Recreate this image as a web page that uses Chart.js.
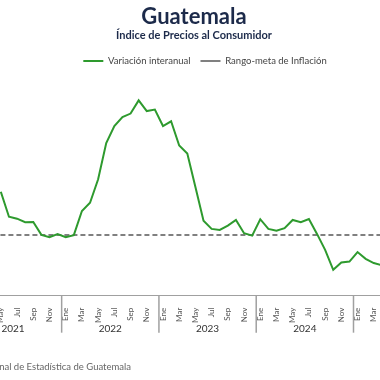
<!DOCTYPE html>
<html>
<head>
<meta charset="utf-8">
<script src="https://cdn.jsdelivr.net/npm/chart.js@4"></script>
<style>
html,body{margin:0;padding:0;background:#fff;overflow:hidden;}
#wrap{position:relative;width:380px;height:380px;}
</style>
</head>
<body>
<div id="wrap"><canvas id="c" width="380" height="380"></canvas></div>
<script>
// Month index: 0 = Ene 2021
const monthLabels = ['Ene','Feb','Mar','Abr','May','Jun','Jul','Ago','Sep','Oct','Nov','Dic'];
const years = ['2021','2022','2023','2024','2025'];
const firstMonthIndex = 4; // May 2021
// Variación interanual (%), May 2021 .. Apr 2025
const inflation = [
  5.73, 4.73, 4.65, 4.51, 4.52, 4.00, 3.91, 4.03,
  3.91, 3.99, 4.96, 5.29, 6.23, 7.69, 8.37, 8.73, 8.87, 9.40, 8.97, 9.03,
  8.37, 8.56, 7.59, 7.27, 5.92, 4.57, 4.24, 4.20, 4.37, 4.60, 4.07, 3.97,
  4.63, 4.24, 4.17, 4.27, 4.60, 4.51, 4.64, 4.04, 3.40, 2.60, 2.89, 2.93,
  3.31, 3.04, 2.87, 2.78
];
const inflationTarget = 4;
const title = 'Guatemala';
const subtitle = 'Índice de Precios al Consumidor';
const seriesNames = ['Variación interanual', 'Rango-meta de Inflación'];
const sourceText = 'Fuente: Instituto Nacional de Estadística de Guatemala';

const seriesPoints = inflation.map((v, i) => ({x: firstMonthIndex + i, y: v}));
const targetPoints = [{x: 0, y: inflationTarget}, {x: 59, y: inflationTarget}];

const FONT = 'Lato, "Noto Sans", sans-serif';

const shiftPlugin = {
  id: 'shiftPlugin',
  afterLayout(chart) {
    chart.boxes.forEach(b => {
      if (b === chart.legend) { b.left += 15; b.right += 15; }
      else if (b.options && (b.options.text === title || b.options.text === subtitle)) {
        b.left += 4; b.right += 4;
      }
    });
  }
};

const yearPlugin = {
  id: 'yearPlugin',
  afterDraw(chart) {
    const ctx = chart.ctx;
    const xs = chart.scales.x;
    const top = chart.chartArea.bottom;
    ctx.save();
    ctx.strokeStyle = '#a0a0a0';
    ctx.lineWidth = 1.5;
    for (let y = 1; y < years.length; y++) {
      const px = xs.getPixelForValue(y * 12 - 0.5);
      ctx.beginPath();
      ctx.moveTo(px, top);
      ctx.lineTo(px, top + 37);
      ctx.stroke();
    }
    ctx.fillStyle = '#333';
    ctx.font = '10px ' + FONT;
    ctx.textAlign = 'center';
    ctx.textBaseline = 'middle';
    years.forEach((yr, i) => {
      ctx.fillText(yr, xs.getPixelForValue(i * 12 + 5.5), top + 33);
    });
    ctx.fillStyle = '#666';
    ctx.font = '9.5px ' + FONT;
    ctx.textAlign = 'right';
    ctx.fillText(sourceText, 131, 367);
    ctx.restore();
  }
};

new Chart(document.getElementById('c'), {
  type: 'line',
  data: {
    datasets: [
      {
        label: seriesNames[0],
        data: seriesPoints,
        borderColor: '#2e9a2e',
        backgroundColor: '#2e9a2e',
        borderWidth: 2,
        pointRadius: 0,
        tension: 0
      },
      {
        label: seriesNames[1],
        data: targetPoints,
        borderColor: '#808080',
        backgroundColor: '#808080',
        borderWidth: 2,
        borderDash: [5, 3],
        pointRadius: 0
      }
    ]
  },
  options: {
    responsive: false,
    animation: false,
    devicePixelRatio: 1,
    layout: {padding: {left: 0, right: 0, top: 0, bottom: 53}},
    plugins: {
      title: {
        display: true,
        text: title,
        color: '#1c2a4a',
        font: {family: FONT, size: 22, weight: 'bold', lineHeight: 1.0},
        padding: {top: 6, bottom: 1}
      },
      subtitle: {
        display: true,
        text: subtitle,
        color: '#1c2a4a',
        font: {family: FONT, size: 11, weight: 'bold', lineHeight: 1.2},
        padding: {top: 0, bottom: 4}
      },
      legend: {
        display: true,
        labels: {
          color: '#444',
          font: {family: FONT, size: 9.5},
          usePointStyle: true,
          pointStyle: 'line',
          pointStyleWidth: 20,
          boxHeight: 2,
          padding: 10
        }
      },
      tooltip: {enabled: false}
    },
    scales: {
      x: {
        type: 'linear',
        min: 3.895,
        max: 50.77,
        grid: {display: false},
        border: {display: true, color: '#a0a0a0', width: 1},
        afterBuildTicks(scale) {
          const t = [];
          for (let m = 0; m < 60; m += 2) {
            if (m >= scale.min && m <= scale.max) t.push({value: m});
          }
          scale.ticks = t;
        },
        afterFit(scale) { scale.paddingLeft = 0; scale.paddingRight = 0; },
        ticks: {
          autoSkip: false,
          minRotation: 90,
          maxRotation: 90,
          padding: 4,
          color: '#555',
          font: {family: FONT, size: 8},
          callback: (v) => monthLabels[((v % 12) + 12) % 12]
        }
      },
      y: {
        display: false,
        min: 1.56,
        max: 10.39
      }
    }
  },
  plugins: [shiftPlugin, yearPlugin]
});
</script>
</body>
</html>
